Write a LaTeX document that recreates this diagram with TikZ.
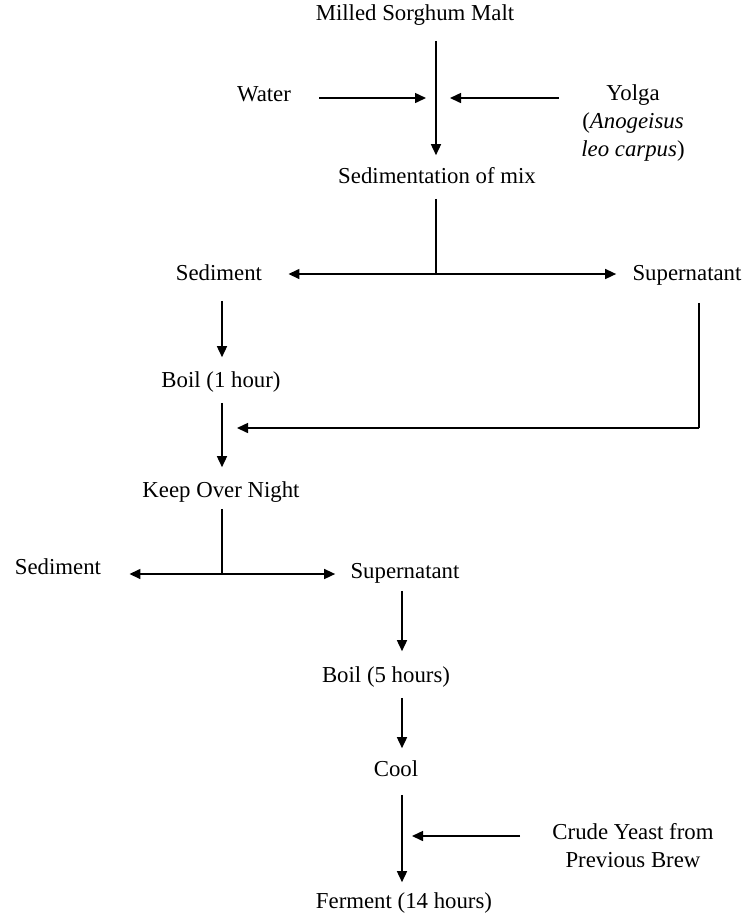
\documentclass[tikz,border=0pt]{standalone}
\usepackage{fontspec}
\setmainfont{Liberation Serif}
\usetikzlibrary{arrows.meta,positioning,calc}

\begin{document}
\begin{tikzpicture}[x=0.5pt,y=-0.5pt,
				stage/.style={inner sep=0pt, text height=7.8pt, text depth=2.6pt, align=center, font=\fontsize{11.4}{14}\selectfont},
				flow/.style={line width=0.75pt, -{Triangle[length=5.5pt,width=5pt]}},
				split/.style={line width=0.75pt, {Triangle[length=5.5pt,width=5pt]}-{Triangle[length=5.5pt,width=5pt]}},
				link/.style={line width=0.75pt}]
			\useasboundingbox (0,0) rectangle (743,918);
			% stages
			\node [stage] (malt) at (415,15) {Milled Sorghum Malt};
			\node [stage] (water) at (264,96) {Water};
			\node [stage, text height=, text depth=] (yolga) at (633,123) {Yolga\\(\textit{Anogeisus}\\\textit{leo carpus})};
			\node [stage] (mix) at (437,178) {Sedimentation of mix};
			\node [stage] (sed1) at (219,275) {Sediment};
			\node [stage] (sup1) at (687,275) {Supernatant};
			\node [stage] (boil1) at (221,382) {Boil (1 hour)};
			\node [stage] (night) at (221,492) {Keep Over Night};
			\node [stage] (sed2) at (58,569) {Sediment};
			\node [stage] (sup2) at (405,573) {Supernatant};
			\node [stage] (boil5) at (386,677) {Boil (5 hours)};
			\node [stage] (cool) at (396,771) {Cool};
			\node [stage, text height=, text depth=] (yeast) at (633,846) {Crude Yeast from\\Previous Brew};
			\node [stage] (ferment) at (404,903) {Ferment (14 hours)};
			% junctions
			\coordinate (mixin) at (436,98);
			\coordinate (split1) at (436,274);
			\coordinate (back) at (699,428);
			\coordinate (split2) at (222,574);
			\coordinate (yeastin) at (402,836);
			% connectors
			\draw [flow, shorten <=7.5pt, shorten >=6pt] (malt.south -| mixin) -- (mix.north -| mixin);
			\draw [flow, shorten <=14pt, shorten >=5pt] (water.east |- mixin) -- (mixin);
			\draw [flow, shorten <=11pt, shorten >=7pt] (yolga.west |- mixin) -- (mixin);
			\draw [link, shorten <=5pt] (mix.south -| split1) -- (split1);
			\draw [split, shorten <=13pt, shorten >=8pt] (sed1.east |- split1) -- (sup1.west |- split1);
			\draw [flow, shorten <=7.5pt, shorten >=7pt] (sed1.south -| split2) -- (boil1.north -| split2);
			\draw [link, shorten <=8.5pt] (sup1.south -| back) -- (back);
			\draw [flow, shorten >=7.5pt] (back) -- (back -| split2);
			\draw [flow, shorten <=5pt, shorten >=7pt] (boil1.south -| split2) -- (night.north -| split2);
			\draw [link, shorten <=3pt] (night.south -| split2) -- (split2);
			\draw [split, shorten <=14pt, shorten >=7.5pt] (sed2.east |- split2) -- (sup2.west |- split2);
			\draw [flow, shorten <=3.5pt, shorten >=7.5pt] (sup2.south -| yeastin) -- (boil5.north -| yeastin);
			\draw [flow, shorten <=5pt, shorten >=6pt] (boil5.south -| yeastin) -- (cool.north -| yeastin);
			\draw [flow, shorten <=6.5pt, shorten >=5pt] (cool.south -| yeastin) -- (ferment.north -| yeastin);
			\draw [flow, shorten <=16pt, shorten >=5pt] (yeast.west |- yeastin) -- (yeastin);
		\end{tikzpicture}
\end{document}
